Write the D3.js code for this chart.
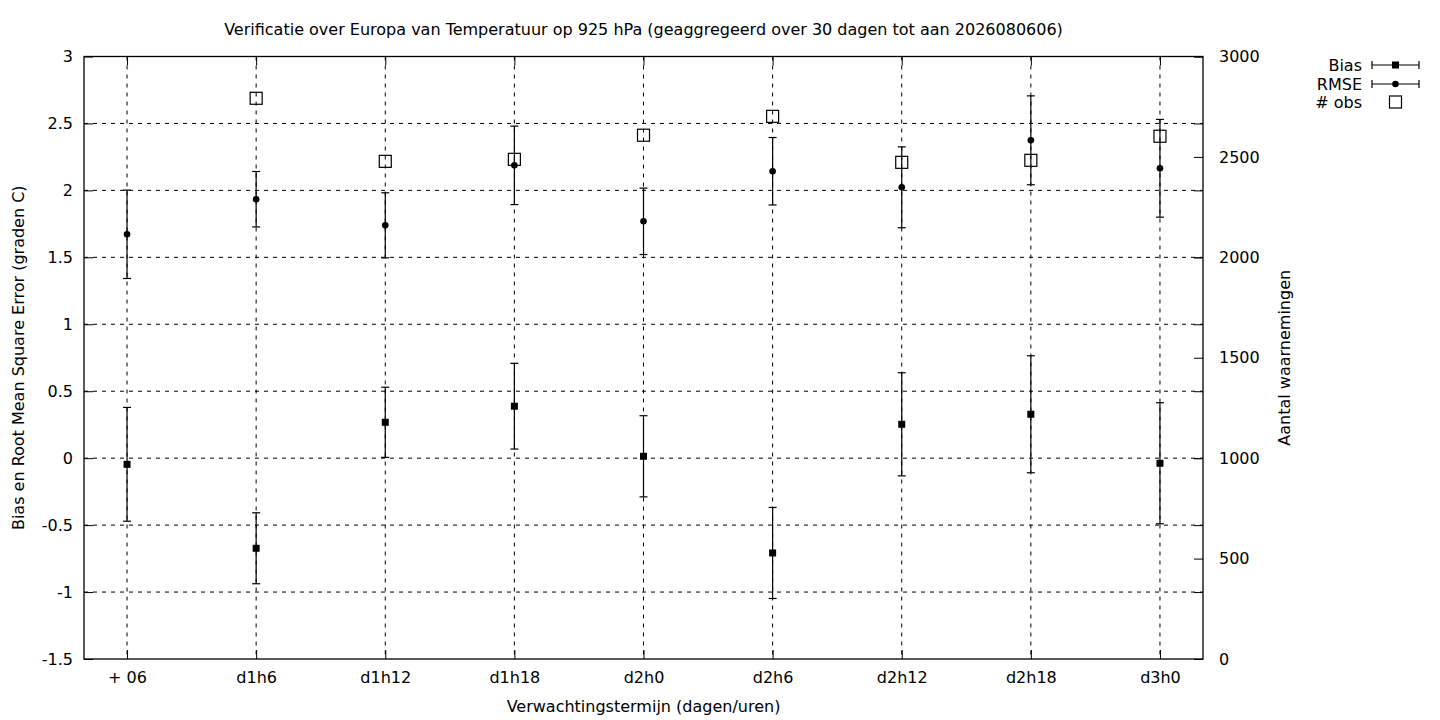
<!DOCTYPE html>
<html lang="nl">
<head>
<meta charset="UTF-8">
<title>Verificatie Temperatuur 925 hPa</title>
<script src="https://d3js.org/d3.v7.min.js"></script>
<style>
    body { margin: 0; background: #fff; }
    svg text { font-family: "DejaVu Sans", sans-serif; font-size: 16px; fill: #000; }
    .grid line { stroke: #000; stroke-width: 1; stroke-dasharray: 4,5; }
</style>
</head>
<body>
<svg id="canvas" width="1440" height="720"></svg>
<script>
    // forecast lead times
    let termijnen = ["+ 06", "d1h6", "d1h12", "d1h18", "d2h0", "d2h6", "d2h12", "d2h18", "d3h0"];
    // bias and its spread (graden C)
    let bias    = [-0.046, -0.673, 0.268, 0.388, 0.014, -0.708, 0.253, 0.328, -0.038];
    let biasErr = [0.425, 0.265, 0.262, 0.320, 0.303, 0.340, 0.385, 0.437, 0.452];
    // root mean square error and its spread
    let rmse    = [1.672, 1.934, 1.739, 2.187, 1.769, 2.143, 2.023, 2.374, 2.165];
    let rmseErr = [0.330, 0.207, 0.243, 0.293, 0.248, 0.252, 0.302, 0.332, 0.365];
    // number of observations (first lead time has none)
    let nObs    = [null, 2792, 2478, 2488, 2608, 2702, 2473, 2483, 2603];
    // axis ticks
    let yTicks  = [-1.5, -1, -0.5, 0, 0.5, 1, 1.5, 2, 2.5, 3];
    let y2Ticks = [0, 500, 1000, 1500, 2000, 2500, 3000];

    let svg = d3.select('svg');
    let pLeft = 84, pRight = 1203, pTop = 56.5, pBottom = 659;

    let x = d3.scaleLinear().domain([-1/3, termijnen.length - 1 + 1/3]).range([pLeft, pRight]);
    let y = d3.scaleLinear().domain([-1.5, 3]).range([pBottom, pTop]);
    let y2 = d3.scaleLinear().domain([0, 3000]).range([pBottom, pTop]);

    // grid
    let grid = svg.append('g').attr('class', 'grid');
    grid.selectAll('line.h')
        .data(yTicks.filter(d => d > -1.5 && d < 3))
        .enter().append('line').attr('class', 'h')
        .attr('x1', pLeft).attr('x2', pRight)
        .attr('y1', d => y(d)).attr('y2', d => y(d));
    grid.selectAll('line.v')
        .data(termijnen)
        .enter().append('line').attr('class', 'v')
        .attr('x1', (d, i) => x(i)).attr('x2', (d, i) => x(i))
        .attr('y1', pTop).attr('y2', pBottom);

    // axes (ticks drawn inward like gnuplot), plain hyphen for minus
    let fmt = d => String(d);
    let yAxis = d3.axisLeft(y).tickValues(yTicks).tickSize(-9).tickPadding(11).tickFormat(fmt);
    let yAxisMirror = d3.axisRight(y).tickValues(yTicks).tickSize(-9).tickFormat('');
    let y2Axis = d3.axisRight(y2).tickValues(y2Ticks).tickSize(-9).tickPadding(16).tickFormat(fmt);
    let xAxis = d3.axisBottom(x).tickValues(d3.range(termijnen.length)).tickSize(-9).tickPadding(13).tickFormat(i => termijnen[i]);
    let xAxisTop = d3.axisTop(x).tickValues(d3.range(termijnen.length)).tickSize(-9).tickFormat('');

    function styleAxis(g) {
        g.select('.domain').remove();
        g.selectAll('line').attr('stroke', '#000');
        g.selectAll('text').style('font-size', '16px').style('font-family', '"DejaVu Sans", sans-serif');
    }
    svg.append('g').attr('transform', `translate(${pLeft},0)`).call(yAxis).call(styleAxis);
    svg.append('g').attr('transform', `translate(${pRight},0)`).call(yAxisMirror).call(styleAxis);
    svg.append('g').attr('transform', `translate(${pRight},0)`).call(y2Axis).call(styleAxis)
        .selectAll('text').attr('text-anchor', 'start');
    svg.append('g').attr('transform', `translate(0,${pBottom})`).call(xAxis).call(styleAxis);
    svg.append('g').attr('transform', `translate(0,${pTop})`).call(xAxisTop).call(styleAxis);

    // border
    svg.append('rect')
        .attr('x', pLeft).attr('y', pTop)
        .attr('width', pRight - pLeft).attr('height', pBottom - pTop)
        .attr('fill', 'none').attr('stroke', '#000').attr('stroke-width', 1.3);

    // error bars
    function errorBars(vals, errs, cls) {
        let g = svg.append('g').attr('class', cls);
        let rows = vals.map((v, i) => ({i: i, v: v, e: errs[i]}));
        g.selectAll('line.bar').data(rows).enter().append('line')
            .attr('x1', d => x(d.i)).attr('x2', d => x(d.i))
            .attr('y1', d => y(d.v - d.e)).attr('y2', d => y(d.v + d.e))
            .attr('stroke', '#000').attr('stroke-width', 1.2);
        ['lo', 'hi'].forEach(k => {
            g.selectAll('line.cap' + k).data(rows).enter().append('line')
                .attr('x1', d => x(d.i) - 4).attr('x2', d => x(d.i) + 4)
                .attr('y1', d => y(k === 'lo' ? d.v - d.e : d.v + d.e))
                .attr('y2', d => y(k === 'lo' ? d.v - d.e : d.v + d.e))
                .attr('stroke', '#000').attr('stroke-width', 1.2);
        });
        return g;
    }

    let biasG = errorBars(bias, biasErr, 'bias');
    biasG.selectAll('rect').data(bias).enter().append('rect')
        .attr('x', (d, i) => x(i) - 3.5).attr('y', d => y(d) - 3.5)
        .attr('width', 7).attr('height', 7).attr('fill', '#000');

    let rmseG = errorBars(rmse, rmseErr, 'rmse');
    rmseG.selectAll('circle').data(rmse).enter().append('circle')
        .attr('cx', (d, i) => x(i)).attr('cy', d => y(d)).attr('r', 3.3).attr('fill', '#000');

    // observations on second axis
    svg.append('g').selectAll('rect')
        .data(nObs.map((v, i) => ({i: i, v: v})).filter(d => d.v !== null))
        .enter().append('rect')
        .attr('x', d => x(d.i) - 6).attr('y', d => y2(d.v) - 6)
        .attr('width', 12).attr('height', 12)
        .attr('fill', 'none').attr('stroke', '#000').attr('stroke-width', 1.2);

    // titles
    svg.append('text').attr('x', (pLeft + pRight) / 2).attr('y', 35)
        .attr('text-anchor', 'middle')
        .text('Verificatie over Europa van Temperatuur op 925 hPa (geaggregeerd over 30 dagen tot aan 2026080606)');
    svg.append('text').attr('x', (pLeft + pRight) / 2).attr('y', 712)
        .attr('text-anchor', 'middle')
        .text('Verwachtingstermijn (dagen/uren)');
    svg.append('text')
        .attr('transform', `translate(24,${(pTop + pBottom) / 2}) rotate(-90)`)
        .attr('text-anchor', 'middle')
        .text('Bias en Root Mean Square Error (graden C)');
    svg.append('text')
        .attr('transform', `translate(1290,${(pTop + pBottom) / 2}) rotate(-90)`)
        .attr('text-anchor', 'middle')
        .text('Aantal waarnemingen');

    // legend
    let legend = svg.append('g');
    let items = [
        {label: 'Bias', type: 'square', yy: 65},
        {label: 'RMSE', type: 'circle', yy: 84},
        {label: '# obs', type: 'box', yy: 102}
    ];
    items.forEach(it => {
        legend.append('text').attr('x', 1362).attr('y', it.yy + 6)
            .attr('text-anchor', 'end').text(it.label);
        if (it.type !== 'box') {
            legend.append('line').attr('x1', 1372).attr('x2', 1419)
                .attr('y1', it.yy).attr('y2', it.yy).attr('stroke', '#000').attr('stroke-width', 1.2);
            [1372, 1419].forEach(cx => legend.append('line')
                .attr('x1', cx).attr('x2', cx).attr('y1', it.yy - 4).attr('y2', it.yy + 4)
                .attr('stroke', '#000').attr('stroke-width', 1.2));
        }
        if (it.type === 'square') {
            legend.append('rect').attr('x', 1392).attr('y', it.yy - 3.5)
                .attr('width', 7).attr('height', 7).attr('fill', '#000');
        } else if (it.type === 'circle') {
            legend.append('circle').attr('cx', 1395.5).attr('cy', it.yy).attr('r', 3.3).attr('fill', '#000');
        } else {
            legend.append('rect').attr('x', 1389.5).attr('y', it.yy - 6)
                .attr('width', 12).attr('height', 12)
                .attr('fill', 'none').attr('stroke', '#000').attr('stroke-width', 1.2);
        }
    });
</script>
</body>
</html>
